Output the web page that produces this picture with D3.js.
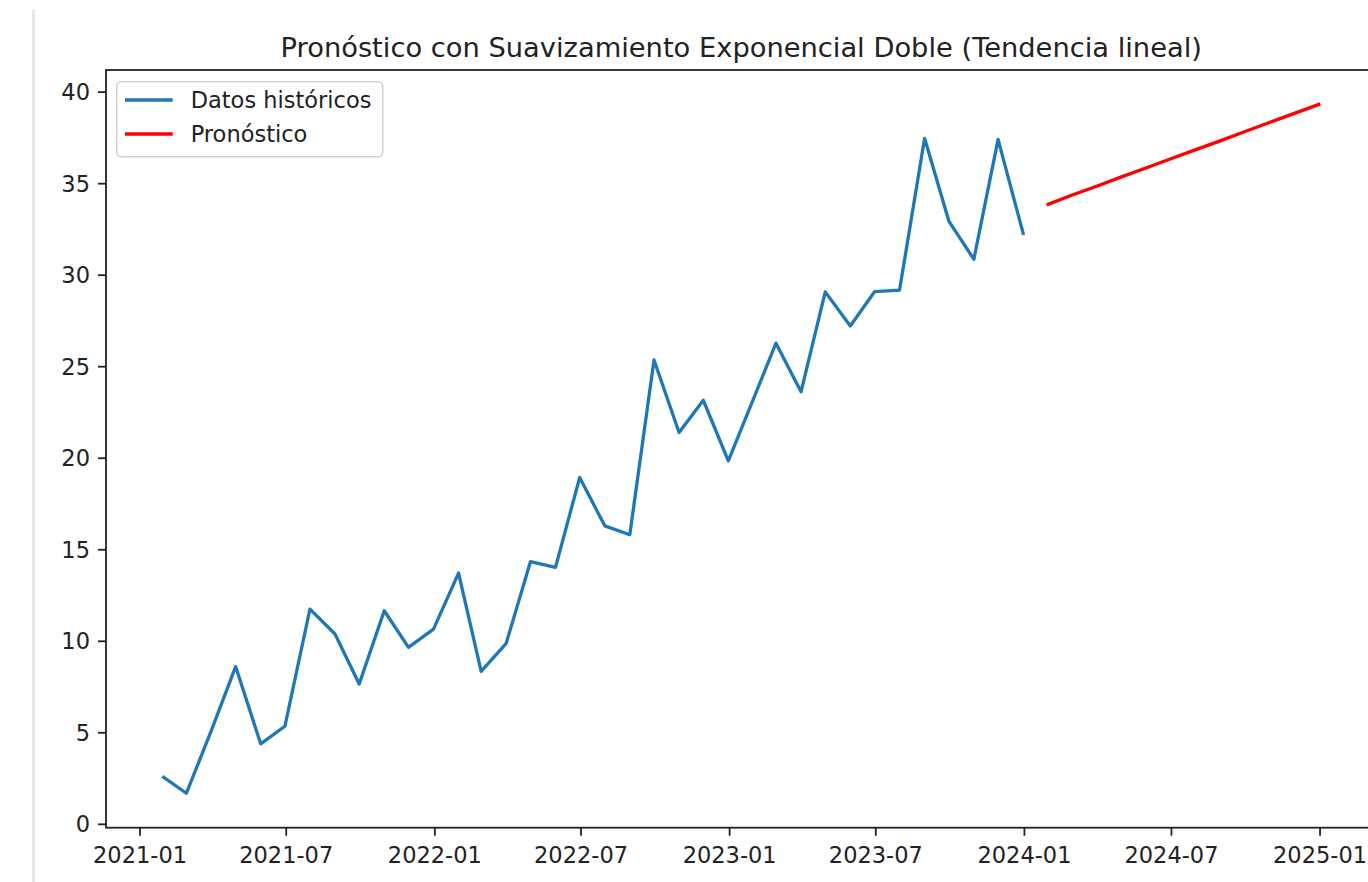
<!DOCTYPE html>
<html>
<head>
<meta charset="utf-8">
<script src="https://cdn.jsdelivr.net/npm/d3@7"></script>
<style>
  html, body { margin: 0; padding: 0; background: #fff; }
  svg { display: block; font-family: "DejaVu Sans", sans-serif; }
</style>
</head>
<body>
<svg id="chart" width="1368" height="882"></svg>
<script>
// Monthly history (month-end dates) and 12-month Holt linear-trend forecast
const histDates = [
  "2021-01-31","2021-02-28","2021-03-31","2021-04-30","2021-05-31","2021-06-30",
  "2021-07-31","2021-08-31","2021-09-30","2021-10-31","2021-11-30","2021-12-31",
  "2022-01-31","2022-02-28","2022-03-31","2022-04-30","2022-05-31","2022-06-30",
  "2022-07-31","2022-08-31","2022-09-30","2022-10-31","2022-11-30","2022-12-31",
  "2023-01-31","2023-02-28","2023-03-31","2023-04-30","2023-05-31","2023-06-30",
  "2023-07-31","2023-08-31","2023-09-30","2023-10-31","2023-11-30","2023-12-31"
];
const histValues = [
  2.54, 1.67, 5.10, 8.59, 4.37, 5.33, 11.73, 10.37, 7.64, 11.64, 9.64, 10.64,
  13.70, 8.33, 9.86, 14.32, 14.01, 18.92, 16.28, 15.79, 25.34, 21.38, 23.14, 19.83,
  23.20, 26.26, 23.60, 29.06, 27.20, 29.07, 29.16, 37.45, 32.93, 30.84, 37.39, 32.26
];
const fcDates = [
  "2024-01-31","2024-02-29","2024-03-31","2024-04-30","2024-05-31","2024-06-30",
  "2024-07-31","2024-08-31","2024-09-30","2024-10-31","2024-11-30","2024-12-31"
];
const fcValues = [33.84, 34.34, 34.83, 35.33, 35.83, 36.32, 36.82, 37.31, 37.81, 38.31, 38.80, 39.30];
const yTicks = [0, 5, 10, 15, 20, 25, 30, 35, 40];
const titleText = "Pronóstico con Suavizamiento Exponencial Doble (Tendencia lineal)";
const seriesNames = ["Datos históricos", "Pronóstico"];

const parse = d3.utcParse("%Y-%m-%d");
const hist = histDates.map((d, i) => ({ date: parse(d), value: histValues[i] }));
const fc = fcDates.map((d, i) => ({ date: parse(d), value: fcValues[i] }));

const svg = d3.select("#chart");
const plotLeft = 106, plotRight = 1376.5, plotTop = 70, plotBottom = 827.7;
const fontSize = 22.5;
const textColor = "#222";

// notebook cell gutter line
svg.append("line")
  .attr("x1", 33.5).attr("x2", 33.5).attr("y1", 10).attr("y2", 882)
  .attr("stroke", "#e2e2e2").attr("stroke-width", 2.5);

// x-extent padded by 5% on both sides
const allDates = hist.concat(fc).map(d => d.date);
const [dMin, dMax] = d3.extent(allDates);
const pad = (dMax - dMin) * 0.05;
const x = d3.scaleUtc()
  .domain([new Date(+dMin - pad), new Date(+dMax + pad)])
  .range([plotLeft, plotRight]);

const allVals = histValues.concat(fcValues);
const [vMin, vMax] = d3.extent(allVals);
const vPad = (vMax - vMin) * 0.05;
const y = d3.scaleLinear()
  .domain([vMin - vPad, vMax + vPad])
  .range([plotBottom, plotTop]);

svg.append("defs").append("clipPath").attr("id", "plot")
  .append("rect").attr("x", plotLeft).attr("y", plotTop)
  .attr("width", plotRight - plotLeft).attr("height", plotBottom - plotTop);

const line = d3.line().x(d => x(d.date)).y(d => y(d.value));

const plot = svg.append("g").attr("clip-path", "url(#plot)");
plot.append("path").datum(hist)
  .attr("d", line).attr("fill", "none")
  .attr("stroke", "#1f77b4").attr("stroke-width", 3.3)
  .attr("stroke-linejoin", "round").attr("stroke-linecap", "square");
plot.append("path").datum(fc)
  .attr("d", line).attr("fill", "none")
  .attr("stroke", "#ff0000").attr("stroke-width", 3.3)
  .attr("stroke-linejoin", "round").attr("stroke-linecap", "square");

// axes
const xAxis = d3.axisBottom(x)
  .tickValues(d3.utcMonth.every(6).range(new Date(Date.UTC(2021, 0, 1)), new Date(Date.UTC(2025, 0, 2))))
  .tickFormat(d3.utcFormat("%Y-%m"))
  .tickSize(8).tickPadding(8).tickSizeOuter(0);
const gx = svg.append("g").attr("transform", `translate(0,${plotBottom})`).call(xAxis);

const yAxis = d3.axisLeft(y)
  .tickValues(yTicks)
  .tickFormat(d3.format("d"))
  .tickSize(8).tickPadding(8).tickSizeOuter(0);
const gy = svg.append("g").attr("transform", `translate(${plotLeft},0)`).call(yAxis);

[gx, gy].forEach(g => {
  g.select(".domain").remove();
  g.selectAll(".tick line").attr("stroke", "#222").attr("stroke-width", 1.8);
  g.selectAll(".tick text")
    .attr("fill", textColor)
    .style("font-size", fontSize + "px")
    .style("font-family", "'DejaVu Sans', sans-serif");
});
gx.selectAll(".tick text").attr("dy", null).attr("y", 35);
gy.selectAll(".tick text").attr("dy", "0.36em");

// spines
svg.append("rect")
  .attr("x", plotLeft).attr("y", plotTop)
  .attr("width", plotRight - plotLeft).attr("height", plotBottom - plotTop)
  .attr("fill", "none").attr("stroke", "#222").attr("stroke-width", 1.8);

// title
svg.append("text")
  .attr("x", (plotLeft + plotRight) / 2).attr("y", 57)
  .attr("text-anchor", "middle")
  .attr("fill", textColor)
  .style("font-size", "27.3px")
  .text(titleText);

// legend
const lg = svg.append("g");
lg.append("rect")
  .attr("x", 116.7).attr("y", 81.7).attr("width", 266).attr("height", 75)
  .attr("rx", 4.5).attr("ry", 4.5)
  .attr("fill", "#fff").attr("fill-opacity", 0.8)
  .attr("stroke", "#d0d0d0").attr("stroke-width", 1.5);
const colors = ["#1f77b4", "#ff0000"];
seriesNames.forEach((name, i) => {
  const ry = 100 + i * 34;
  lg.append("line")
    .attr("x1", 125).attr("x2", 172.7).attr("y1", ry).attr("y2", ry)
    .attr("stroke", colors[i]).attr("stroke-width", 3.3);
  lg.append("text")
    .attr("x", 190.7).attr("y", ry).attr("dy", "0.36em")
    .attr("fill", textColor)
    .style("font-size", fontSize + "px")
    .text(name);
});
</script>
</body>
</html>
